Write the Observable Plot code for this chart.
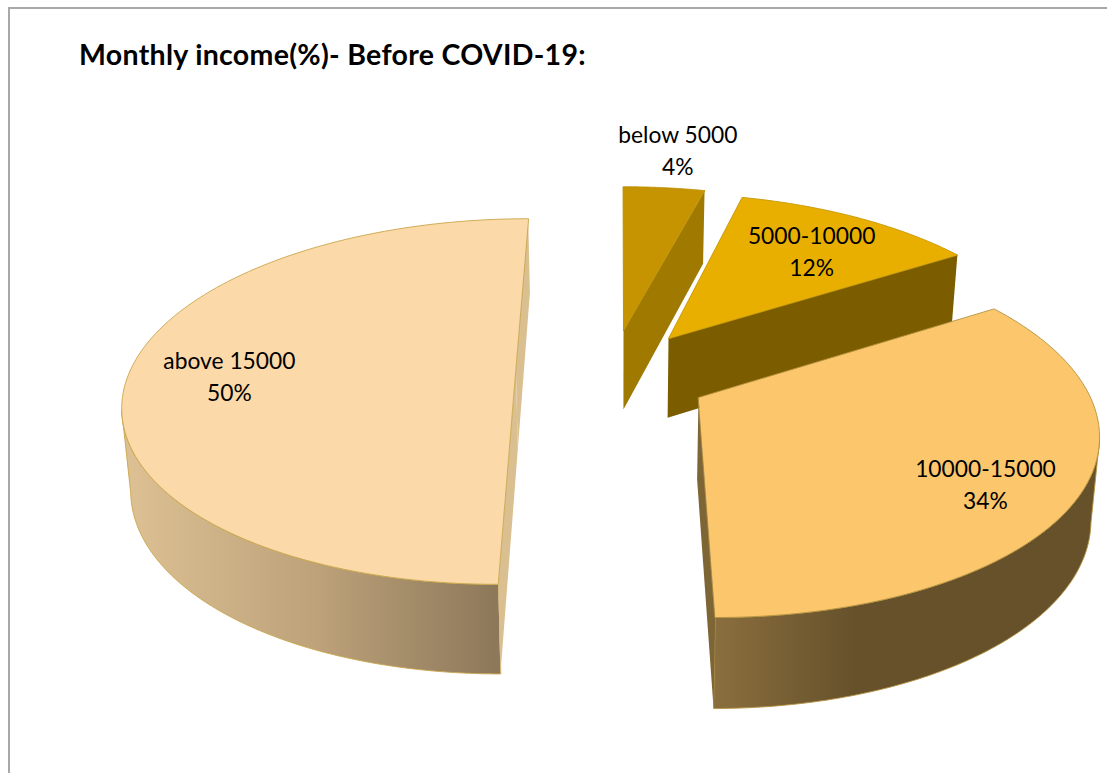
<!DOCTYPE html>
<html><head><meta charset="utf-8">
<style>
html,body{margin:0;padding:0;background:#fff;overflow:hidden}
#frame{position:absolute;left:8px;top:7px;right:0;bottom:0;border-top:2px solid #a8a8a8;border-left:2px solid #a8a8a8;pointer-events:none;z-index:2}
#title{height:76px;box-sizing:border-box;padding:40px 0 0 79px;font:bold 28.5px/28px Lato,sans-serif;color:#000;letter-spacing:.3px;white-space:nowrap}
svg{display:block}
</style>
<script src="https://cdn.jsdelivr.net/npm/d3@7"></script>
<script src="https://cdn.jsdelivr.net/npm/@observablehq/plot@0.6"></script>
</head><body>
<div id="frame"></div>
<div id="title">Monthly income(%)- Before COVID-19:</div>
<div id="chart"></div>
<script>
const categories = ["below 5000", "5000-10000", "10000-15000", "above 15000"];
const shares = [4, 12, 34, 50];
const topColors = ["#c59400", "#e9af00", "#fbc66c", "#fbd9a8"];
const cutColors = ["#9f7900", "#7b5d00", "#7d6536", "#dabf90"];
const edgeColors = ["#bb8d00", "#c49600", "#b4923f", "#c9a64c"];

// Perspective layout of the exploded pie (drawing geometry, not data)
const horizonY = -626;
const rad = Math.PI / 180;
const layout = [
  {px: 623, py: 330, a: 384, k: 0.177, vx: 620, labelR: 1.313, labelShift: 0.5, cuts: [1]},
  {px: 668, py: 338, a: 380, k: 0.177, vx: 620, labelR: 0.698, labelShift: 1.6, cuts: [1]},
  {px: 698, py: 397, a: 392, k: 0.177, vx: 620, labelR: 0.796, labelShift: 5.4, cuts: [1], wall: "wallC", wallFrom: 103, wallTo: 180},
  {px: 515.4, py: 368.5, a: 385, k: 0.178, vx: 597, labelR: 0.7375, labelShift: -3.7, cuts: [0, 1], wall: "wallD", wallFrom: 180, wallTo: 257}
];

const pie = d3.pie().sort(null).startAngle(0).endAngle(2 * Math.PI)(shares);
const project = (s, t, r = 1) => {
  const u = r * Math.sin(t), v = r * Math.cos(t), w = 1 + s.k * v;
  return {x: s.vx + (s.px - s.vx + s.a * u) / w, y: horizonY + (s.py - horizonY) / w};
};
const drop = (p) => ({x: p.x + (620 - p.x) * 0.018, y: p.y + 73 + 0.042 * (p.y - 189)});
const arc = (s, t0, t1) => d3.range(0, 1.0001, 1 / 120).map((f) => project(s, t0 + (t1 - t0) * f));
const poly = (pts, fill, stroke) => Plot.line(pts, {x: "x", y: "y", fill, stroke, strokeWidth: 0.9, curve: "linear-closed"});

const faces = [];
for (const i of [3, 0, 1, 2]) {
  const s = layout[i], {startAngle: t0, endAngle: t1} = pie[i];
  const rim = arc(s, t0, t1);
  const apex = {x: s.px, y: s.py};
  if (s.wall) {
    const wallRim = arc(s, s.wallFrom * rad, s.wallTo * rad);
    faces.push(poly([...wallRim, ...wallRim.map(drop).reverse()], `url(#${s.wall})`, edgeColors[i]));
  }
  for (const c of s.cuts) {
    const e = project(s, c ? t1 : t0);
    faces.push(poly([e, apex, drop(apex), drop(e)], cutColors[i], "none"));
  }
  faces.push(poly([apex, ...rim], topColors[i], edgeColors[i]));
}

const labels = categories.map((c, i) => {
  const s = layout[i], mid = (pie[i].startAngle + pie[i].endAngle) / 2 + s.labelShift * rad;
  return {...project(s, mid, s.labelR), text: `${c}\n${shares[i]}%`};
});

const defs = () => {
  const d = document.createElementNS("http://www.w3.org/2000/svg", "defs");
  d.innerHTML = `
  <linearGradient id="wallD" gradientUnits="userSpaceOnUse" x1="131" x2="501" y1="0" y2="0">
    <stop offset="0" stop-color="#dcc093"/><stop offset="0.5" stop-color="#bda27a"/><stop offset="1" stop-color="#8b7759"/>
  </linearGradient>
  <linearGradient id="wallC" gradientUnits="userSpaceOnUse" x1="711" x2="1090" y1="0" y2="0">
    <stop offset="0" stop-color="#8b6f3e"/><stop offset="0.38" stop-color="#66512b"/><stop offset="1" stop-color="#66512b"/>
  </linearGradient>`;
  return d;
};

const chart = Plot.plot({
  width: 1107, height: 697, margin: 0,
  x: {domain: [0, 1107], range: [0, 1107], axis: null},
  y: {domain: [76, 773], range: [0, 697], axis: null},
  style: {background: "transparent"},
  marks: [
    defs,
    ...faces,
    Plot.text(labels, {x: "x", y: "y", dy: -3, text: "text", fontFamily: "Lato, sans-serif", fontSize: 22.8, lineHeight: 1.44, fill: "#000", textAnchor: "middle", lineAnchor: "middle"})
  ]
});
document.getElementById("chart").append(chart);
</script>
</body></html>
